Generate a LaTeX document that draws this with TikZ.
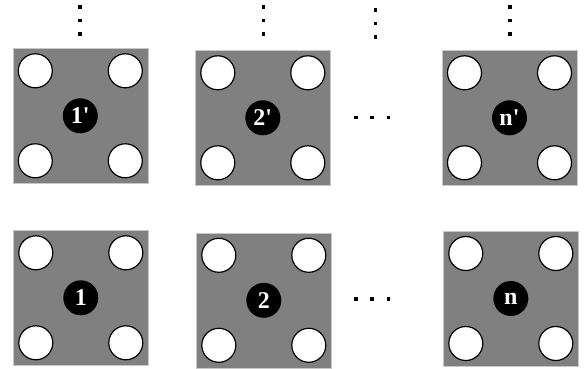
\documentclass[tikz,border=0pt]{standalone}
\usepackage{fontspec}
\setmainfont{Liberation Serif}
\definecolor{cellgray}{HTML}{808080}
\definecolor{celledge}{HTML}{C8C8C8}
\tikzset{
  cell/.style={rectangle,fill=cellgray,draw=celledge,line width=.6pt,minimum size=135pt,inner sep=0pt,anchor=north west},
  hole/.style={circle,draw=black,fill=white,line width=1.2pt,minimum size=34pt,inner sep=0pt},
  tag/.style={circle,fill=black,text=white,minimum size=35pt,inner sep=0pt,font=\fontsize{24}{24}\selectfont\bfseries},
  dot/.style={rectangle,fill=black,minimum size=3.5pt,inner sep=0pt}
}
\begin{document}
\begin{tikzpicture}[x=1pt,y=-1pt]
            \useasboundingbox (0,0) rectangle (584,369);
            % cells: corner / label / name
            \foreach \x/\y/\lab/\nm in {12.5/48/1\textquotesingle/ta,195/50/2\textquotesingle/tb,441.7/50/n\textquotesingle/tn,13/230/1/ba,196/232.5/2/bb,443/230.7/n/bn}
            {
                \node[cell] (\nm) at (\x,\y) {};
                \node[hole] (\nm-nw) at ([shift={(-45,45)}]\nm.center) {};
                \node[hole] (\nm-ne) at ([shift={(45,45)}]\nm.center) {};
                \node[hole] (\nm-sw) at ([shift={(-45,-45)}]\nm.center) {};
                \node[hole] (\nm-se) at ([shift={(45,-45)}]\nm.center) {};
                \node[tag] (\nm-c) at (\nm.center) {\lab};
            }
            % vertical dots above the top row
            \foreach \x/\y/\i in {80/7/1,263.3/7/2,375.7/10/3,510/7/4}
            {
                \node[dot] (v\i-a) at (\x,\y) {};
                \node[dot] (v\i-b) at (\x,\y+13.5) {};
                \node[dot] (v\i-c) at (\x,\y+27) {};
            }
            % horizontal dots between the columns
            \foreach \y/\i in {117.5/t,299/b}
            {
                \node[dot] (h\i-a) at (356,\y) {};
                \node[dot] (h\i-b) at (372,\y) {};
                \node[dot] (h\i-c) at (388.5,\y) {};
            }
\end{tikzpicture}
\end{document}
